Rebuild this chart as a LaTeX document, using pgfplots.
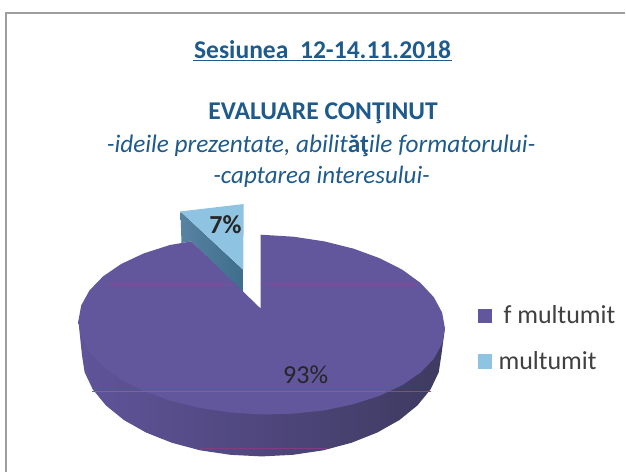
\documentclass[border=0pt]{standalone}
\usepackage{pgfplots}
\pgfplotsset{compat=1.18}
\usepackage{fontspec}
\setmainfont{Carlito}
\definecolor{ptop}{HTML}{62569C}
\definecolor{lblue}{HTML}{8FC3E2}
\definecolor{ttl}{HTML}{1F5A8C}
\definecolor{txt}{HTML}{404040}
\definecolor{sa}{RGB}{88,130,162}
\definecolor{sb}{RGB}{62,110,140}
\definecolor{pa}{RGB}{96,84,154}
\definecolor{pb}{RGB}{78,76,148}
\definecolor{pc}{RGB}{62,58,96}
\definecolor{sk1}{RGB}{122,80,150}
\definecolor{sk2}{RGB}{72,125,155}
\definecolor{sk3}{RGB}{40,130,100}
\definecolor{sk4}{RGB}{130,60,130}
\begin{document}
\begin{tikzpicture}
\begin{axis}[
  scale only axis, width=626pt, height=473pt,
  xmin=0, xmax=626, ymin=0, ymax=473, y dir=reverse,
  axis lines=none, clip=false,
  legend cell align=left,
  legend style={at={(478/626,1-304/473)}, anchor=north west, draw=none, fill=none,
    font=\fontsize{26}{28}\selectfont\color{txt}, row sep=22pt, inner sep=0pt},
  legend image code/.code={\fill[#1,draw=none] (0pt,-7.5pt) rectangle (14pt,7pt);},
]
\path (axis cs:0,0) -- (axis cs:626,473);
% frame
\addplot[forget plot, no marks, color=black!38, line width=1.6pt] coordinates {(6,473) (6,13) (626,13)};
% small slice side
\addplot[forget plot, no marks, draw=none, left color=sa, right color=sb] coordinates {(180.7,211.7) (243.3,270) (243.3,293) (191.7,241.7) (181.7,243.3) (180.7,211.7)};
% side of big slice
\addplot[forget plot, no marks, draw=none, left color=pa, middle color=pb, right color=pc] coordinates {
(445.5,328.7) (442,355) (439.3,372.7) (431.1,389.9) (417.9,406) (399.9,420.6) (377.7,433.1) (352,443.3) (323.6,450.9) (293.2,455.4) (262,457) (230.8,455.4) (200.4,450.9) (172,443.3) (146.3,433.1) (124.1,420.6) (106.1,406) (92.9,389.9) (84.7,372.7) (82,355) (78.5,321.3) (445.5,328.7)};
% top of big slice
\addplot[fill=ptop, draw=none, no marks] coordinates {
(261,309) (261,235) (293.9,237) (324.8,241.7) (353.8,248.9) (380,258.5) (402.6,269.9) (420.9,283.2) (434.4,297.6) (442.7,313) (445.5,328.7) (442.7,344.2) (434.4,359.2) (420.9,373.2) (402.6,385.7) (380,396.3) (353.8,404.7) (324.8,410.9) (293.9,414.2) (262,415) (230.1,413) (199.2,408.3) (170.2,401.1) (144,391.5) (121.4,380.1) (103.1,366.8) (89.6,352.4) (81.3,337) (78.5,321.3) (81.3,305.8) (89.6,290.8) (103.1,276.8) (121.4,264.3) (144,253.7) (170.2,245.3) (191.7,241.7) (261,309)};
\addlegendentry{\hspace{10pt}f multumit}
% small slice top
\addplot[fill=lblue, draw=none, no marks] coordinates {(180.7,211.7) (244,204.3) (243.6,270) (180.7,211.7)};
\addlegendentry{\hspace{5pt}multumit}
% scan streaks
\addplot[forget plot, no marks, color=sk1, line width=0.7pt] coordinates {(104,285) (236,285)};
\addplot[forget plot, no marks, color=sk1, line width=0.7pt] coordinates {(261,285) (420,285)};
\addplot[forget plot, no marks, color=sk2, line width=0.8pt] coordinates {(92,392) (385,392)};
\addplot[forget plot, no marks, color=sk3, line width=0.8pt] coordinates {(385,392) (432,392)};
\addplot[forget plot, no marks, color=sk4, line width=0.7pt] coordinates {(200,449) (327,449)};
% title underline
\addplot[forget plot, no marks, color=ttl, line width=1.2pt] coordinates {(193,60.6) (453,60.6)};
\node[text=ttl, font=\fontsize{25.6}{27}\selectfont\bfseries] at (axis cs:323,50) {Sesiunea\ \ 12-14.11.2018};
\node[text=ttl, font=\fontsize{25.6}{27}\selectfont\bfseries] at (axis cs:323.5,113) {EVALUARE CONŢINUT};
\node[text=ttl, font=\fontsize{25.3}{27}\selectfont\itshape] at (axis cs:321.5,146) {-ideile prezentate, abilit\textbf{\textup{ăţ}}ile formatorului-};
\node[text=ttl, font=\fontsize{25}{27}\selectfont\itshape] at (axis cs:322,177) {-captarea interesului-};
\node[text=black!85, font=\fontsize{26}{28}\selectfont] at (axis cs:306,375.5) {93\%};
\node[text=black!85, font=\fontsize{26}{28}\selectfont\bfseries] at (axis cs:225.7,225) {7\%};
\end{axis}
\end{tikzpicture}
\end{document}
